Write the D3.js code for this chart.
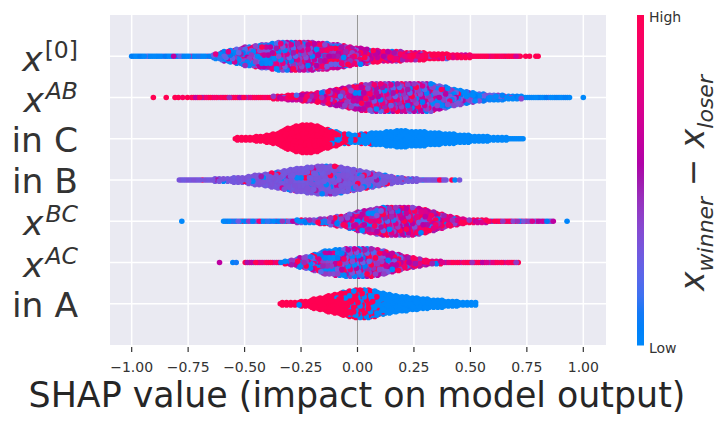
<!DOCTYPE html>
<html><head><meta charset="utf-8">
<script src="https://cdn.jsdelivr.net/npm/d3@7"></script>
<style>
body{margin:0;background:#fff}
svg{display:block}
text{font-family:"DejaVu Sans",sans-serif}
</style>
</head><body>
<svg id="chart" width="722" height="424"></svg>
<script>
// ---------------- DATA ----------------
// Features, top to bottom
const featureBase = ["x", "x", "in C", "in B", "x", "x", "in A"];
const featureSup  = ["[0]", "AB", "", "", "BC", "AC", ""];
const featureSupItalic = [false, true, false, false, true, true, false];

const xTicks = [-1.00, -0.75, -0.50, -0.25, 0.00, 0.25, 0.50, 0.75, 1.00];
const xTickLabels = ["\u22121.00", "\u22120.75", "\u22120.50", "\u22120.25", "0.00", "0.25", "0.50", "0.75", "1.00"];
const xLabel = "SHAP value (impact on model output)";
const colorbarLabel = ["x", "winner", "x", "loser"];
const colorbarHigh = "High", colorbarLow = "Low";

// Feature-value levels used for colouring (0 = low, 1 = high)
const colorLevels = [0, 0.3, 0.5, 0.7, 1];

// Relative density (0..1 of the widest part) along SHAP value, per feature
const dens_x0  = [[-1.00,0],[-0.72,0],[-0.65,0.07],[-0.58,0.37],[-0.505,0.61],[-0.43,0.77],[-0.356,0.95],[-0.25,1.0],[-0.134,0.87],[-0.06,0.72],[0.014,0.55],[0.088,0.39],[0.236,0.28],[0.384,0.17],[0.532,0.05],[0.68,0],[0.725,0]];
const dens_xAB = [[-0.735,0],[-0.43,0.01],[-0.356,0.12],[-0.208,0.28],[-0.134,0.43],[-0.06,0.65],[0.014,0.88],[0.088,1.0],[0.2,1.0],[0.31,1.0],[0.384,0.72],[0.458,0.5],[0.532,0.28],[0.68,0.12],[0.828,0.01],[0.946,0]];
const dens_inC = [[-0.541,0.1],[-0.43,0.17],[-0.356,0.37],[-0.326,0.63],[-0.282,0.87],[-0.208,1.0],[-0.164,0.83],[-0.12,0.57],[-0.06,0.33],[0,0.3],[0.088,0.43],[0.18,0.57],[0.31,0.47],[0.458,0.27],[0.606,0.13],[0.74,0.03]];
const dens_inB = [[-0.789,0],[-0.652,0.07],[-0.505,0.2],[-0.43,0.37],[-0.356,0.57],[-0.282,0.77],[-0.208,0.9],[-0.12,1.0],[-0.06,0.83],[0,0.67],[0.088,0.43],[0.16,0.23],[0.236,0.1],[0.384,0.01],[0.40,0]];
const dens_xBC = [[-0.593,0],[-0.4,0.03],[-0.208,0.1],[-0.134,0.23],[-0.06,0.37],[0.014,0.7],[0.058,0.83],[0.13,1.0],[0.236,1.0],[0.31,0.77],[0.384,0.43],[0.458,0.17],[0.532,0.1],[0.68,0.03],[0.872,0]];
const dens_xAC = [[-0.497,0.03],[-0.356,0.03],[-0.297,0.17],[-0.208,0.5],[-0.134,0.83],[-0.06,0.93],[0.028,1.0],[0.088,0.9],[0.16,0.63],[0.236,0.37],[0.31,0.17],[0.384,0.07],[0.55,0.03],[0.716,0]];
const dens_inA = [[-0.342,0.1],[-0.238,0.17],[-0.178,0.37],[-0.09,0.7],[0,0.97],[0.058,0.97],[0.117,0.7],[0.236,0.43],[0.384,0.23],[0.532,0.07]];

// Share of each feature-value level along SHAP value: [shap, w(0), w(.3), w(.5), w(.7), w(1)]
const mix_x0  = [[-1.0,0.9,0.07,0.03,0,0],[-0.7,0.8,0.12,0.05,0.03,0],[-0.55,0.45,0.3,0.15,0.07,0.03],[-0.35,0.2,0.28,0.27,0.18,0.07],[-0.2,0.1,0.2,0.3,0.28,0.12],[0.0,0.05,0.1,0.25,0.35,0.25],[0.15,0.02,0.05,0.15,0.33,0.45],[0.3,0,0.02,0.06,0.2,0.72],[0.8,0,0,0.02,0.08,0.9]];
const mix_xAB = [[-0.95,0,0,0.03,0.12,0.85],[-0.4,0,0.03,0.1,0.25,0.62],[-0.2,0.02,0.06,0.2,0.32,0.4],[0.0,0.05,0.15,0.3,0.3,0.2],[0.2,0.1,0.22,0.33,0.23,0.12],[0.35,0.25,0.35,0.25,0.1,0.05],[0.5,0.55,0.35,0.1,0,0],[0.7,0.88,0.12,0,0,0],[1.0,0.95,0.05,0,0,0]];
const mix_inC = [[-0.6,0,0,0,0,1],[-0.15,0,0,0,0,1],[-0.11,0.15,0,0,0,0.85],[-0.05,0.45,0,0,0,0.55],[0.0,0.75,0,0,0,0.25],[0.04,0.92,0,0,0,0.08],[0.1,1,0,0,0,0],[0.8,1,0,0,0,0]];
const mix_inB = [[-0.8,0.03,0.9,0.02,0,0.05],[-0.3,0.05,0.87,0.02,0.01,0.05],[0.0,0.1,0.8,0.03,0.02,0.05],[0.1,0.1,0.8,0.02,0.02,0.06],[0.45,0.05,0.85,0.02,0,0.08]];
const mix_xBC = [[-0.8,0.85,0.08,0.03,0.02,0.02],[-0.4,0.65,0.12,0.08,0.07,0.08],[-0.2,0.35,0.22,0.18,0.12,0.13],[0.0,0.18,0.22,0.25,0.2,0.15],[0.2,0.1,0.15,0.3,0.27,0.18],[0.4,0.05,0.07,0.15,0.33,0.4],[0.6,0.05,0.08,0.12,0.25,0.5],[0.75,0.1,0.3,0.3,0.1,0.2],[0.9,0.4,0.5,0.1,0,0]];
const mix_xAC = [[-0.62,0.05,0.05,0.1,0.3,0.5],[-0.4,0.1,0.05,0.1,0.3,0.45],[-0.3,0.35,0.2,0.12,0.15,0.18],[-0.15,0.35,0.25,0.18,0.1,0.12],[0.0,0.28,0.27,0.22,0.12,0.11],[0.15,0.1,0.17,0.28,0.25,0.2],[0.3,0.02,0.05,0.18,0.32,0.43],[0.75,0.02,0.03,0.1,0.3,0.55]];
const mix_inA = [[-0.35,0,0,0,0,1],[-0.1,0.03,0,0,0,0.97],[-0.05,0.15,0,0,0,0.85],[0.0,0.4,0,0,0,0.6],[0.05,0.55,0,0,0,0.45],[0.1,0.8,0,0,0,0.2],[0.15,0.97,0,0,0,0.03],[0.2,1,0,0,0,0],[0.6,1,0,0,0,0]];

// Isolated points: [shap value, feature value]
const out_x0  = [[0.745,1],[0.762,1],[0.79,1],[0.80,1]];
const out_xAB = [[-0.904,1],[-0.847,1],[-0.808,1],[-0.793,1],[-0.774,0.95],[-0.753,1],[1.00,0]];
const out_inC = [];
const out_inB = [[0.418,1],[0.432,0],[0.452,0.3]];
const out_xBC = [[-0.778,0],[0.928,0.02]];
const out_xAC = [[-0.611,0.6],[-0.552,0.05],[-0.537,0.1]];
const out_inA = [];

// Spread of feature value around each level (binary features have none)
const levelSpread = [0.25, 0.25, 0, 0.05, 0.25, 0.25, 0];

const densities = [dens_x0, dens_xAB, dens_inC, dens_inB, dens_xBC, dens_xAC, dens_inA];
const mixes = [mix_x0, mix_xAB, mix_inC, mix_inB, mix_xBC, mix_xAC, mix_inA];
const outliers = [out_x0, out_xAB, out_inC, out_inB, out_xBC, out_xAC, out_inA];

// ---------------- DRAWING ----------------
const plot = {left: 110, right: 606, top: 15, bottom: 345};
const svg = d3.select("#chart");

const x = d3.scaleLinear().domain([-1.096, 1.1005]).range([plot.left, plot.right]);
const nRows = featureBase.length;
const y = d3.scaleLinear().domain([-1, nRows]).range([plot.bottom, plot.top]);
const rowY = i => y(nRows - 1 - i);

// shap red_blue colormap (LCH interpolation with a lightness dip)
function shapColor(t) {
  t = Math.max(0, Math.min(1, t));
  const h = 266.93 + t * 113.39;
  const c = 70 + 20 * t;
  const l = t < 0.5 ? 54 - 28 * t : 40 + 28 * (t - 0.5);
  return d3.hcl(h, c, l).formatHex();
}

function interp(arr, v, col) {
  if (v <= arr[0][0]) return arr[0][col];
  const n = arr.length;
  if (v >= arr[n - 1][0]) return arr[n - 1][col];
  for (let i = 1; i < n; i++) {
    if (v <= arr[i][0]) {
      const a = arr[i - 1], b = arr[i];
      const f = (v - a[0]) / (b[0] - a[0]);
      return a[col] + f * (b[col] - a[col]);
    }
  }
  return arr[n - 1][col];
}

// background
svg.append("rect").attr("x", plot.left).attr("y", plot.top)
  .attr("width", plot.right - plot.left).attr("height", plot.bottom - plot.top)
  .attr("fill", "#EAEAF2");

// grid
const grid = svg.append("g");
grid.selectAll("line.v").data(xTicks).join("line")
  .attr("x1", d => x(d)).attr("x2", d => x(d))
  .attr("y1", plot.top).attr("y2", plot.bottom)
  .attr("stroke", "#fff").attr("stroke-width", 1.5);
grid.selectAll("line.h").data(d3.range(nRows)).join("line")
  .attr("x1", plot.left).attr("x2", plot.right)
  .attr("y1", i => rowY(i)).attr("y2", i => rowY(i))
  .attr("stroke", "#fff").attr("stroke-width", 1.5);

// zero line
svg.append("line").attr("x1", x(0)).attr("x2", x(0))
  .attr("y1", plot.top).attr("y2", plot.bottom)
  .attr("stroke", "#999999").attr("stroke-width", 1.1);

// beeswarm dots
const R = 2.8, MAXH = 14.8, DXPX = 2.1, DYPX = 2.3;
const pxPerUnit = x(1) - x(0);
const dv = DXPX / pxPerUnit;
const PHI = 0.6180339887, PHI2 = 0.7548776662;
let dots = [];
let counter = 0;
densities.forEach((dens, ri) => {
  const mix = mixes[ri];
  const v0 = dens[0][0], v1 = dens[dens.length - 1][0];
  let col = 0;
  for (let v = v0; v <= v1 + 1e-9; v += dv, col++) {
    const h = interp(dens, v, 1) * MAXH;
    const shift = (col % 2) * DYPX / 2;
    const offs = [];
    if (h < DYPX / 2) offs.push(0);
    else {
      for (let k = -Math.ceil(h / DYPX) - 1; k <= Math.ceil(h / DYPX) + 1; k++) {
        const o = k * DYPX + shift;
        if (Math.abs(o) <= h) offs.push(o);
      }
    }
    const w = [1, 2, 3, 4, 5].map(c => Math.max(0, interp(mix, v, c)));
    const tot = d3.sum(w);
    offs.forEach(o => {
      counter++;
      const u = (counter * PHI) % 1;
      const u2 = (counter * PHI2) % 1;
      let acc = 0, lvl = colorLevels[colorLevels.length - 1];
      for (let j = 0; j < w.length; j++) {
        acc += w[j] / tot;
        if (u < acc) { lvl = colorLevels[j]; break; }
      }
      const f = lvl + (u2 - 0.5) * levelSpread[ri];
      dots.push({row: ri, v: v, off: o, f: f, key: (counter * 0.5698402910) % 1});
    });
  }
  outliers[ri].forEach(p => {
    dots.push({row: ri, v: p[0], off: 0, f: p[1], key: 2});
  });
});
dots.sort((a, b) => a.key - b.key);

svg.append("g").selectAll("circle").data(dots).join("circle")
  .attr("cx", d => x(d.v))
  .attr("cy", d => rowY(d.row) + d.off)
  .attr("r", R)
  .attr("fill", d => shapColor(d.f));

// x axis ticks
const axisColor = "#333333";
const xt = svg.append("g");
xt.selectAll("line").data(xTicks).join("line")
  .attr("x1", d => x(d)).attr("x2", d => x(d))
  .attr("y1", plot.bottom + 2).attr("y2", plot.bottom + 7)
  .attr("stroke", axisColor).attr("stroke-width", 1.2);
xt.selectAll("text").data(xTicks).join("text")
  .attr("x", d => x(d)).attr("y", 371.5)
  .attr("text-anchor", "middle").attr("font-size", 14).attr("fill", axisColor)
  .text((d, i) => xTickLabels[i]);

// x label
svg.append("text").attr("x", (plot.left + plot.right) / 2 - 1).attr("y", 406.5)
  .attr("text-anchor", "middle").attr("font-size", 34.8).attr("fill", "#262626")
  .text(xLabel);

// y labels
featureBase.forEach((b, i) => {
  const isMath = featureSup[i] !== "";
  const t = svg.append("text")
    .attr("x", 78).attr("y", rowY(i) + (isMath ? (i === 0 ? 15 : 14) : 13))
    .attr("text-anchor", "end").attr("font-size", 34.5).attr("fill", axisColor);
  if (isMath) {
    t.append("tspan").attr("font-style", "italic").text(b);
    t.append("tspan").attr("font-size", 23.5).attr("dx", 2).attr("dy", -13)
      .attr("font-style", featureSupItalic[i] ? "italic" : "normal").text(featureSup[i]);
  } else {
    t.text(b);
  }
});

// colorbar
const cb = {x: 637, w: 7, top: 15, bottom: 345.5};
const defs = svg.append("defs");
const grad = defs.append("linearGradient").attr("id", "cbgrad")
  .attr("x1", 0).attr("y1", 1).attr("x2", 0).attr("y2", 0);
d3.range(0, 1.0001, 0.05).forEach(t => {
  grad.append("stop").attr("offset", t).attr("stop-color", shapColor(t));
});
svg.append("rect").attr("x", cb.x).attr("y", cb.top).attr("width", cb.w)
  .attr("height", cb.bottom - cb.top).attr("fill", "url(#cbgrad)");
svg.append("text").attr("x", 649).attr("y", 21.7).attr("font-size", 14)
  .attr("fill", axisColor).text(colorbarHigh);
svg.append("text").attr("x", 649).attr("y", 353.3).attr("font-size", 14)
  .attr("fill", axisColor).text(colorbarLow);

const cl = svg.append("text").attr("transform", "translate(704,183) rotate(-90)")
  .attr("text-anchor", "middle").attr("font-size", 33).attr("fill", axisColor);
cl.append("tspan").attr("font-style", "italic").text(colorbarLabel[0]);
cl.append("tspan").attr("font-style", "italic").attr("font-size", 22).attr("dy", 9).text(colorbarLabel[1]);
cl.append("tspan").attr("dy", -9).text(" \u2212 ");
cl.append("tspan").attr("font-style", "italic").text(colorbarLabel[2]);
cl.append("tspan").attr("font-style", "italic").attr("font-size", 22).attr("dy", 9).text(colorbarLabel[3]);
</script>
</body></html>
